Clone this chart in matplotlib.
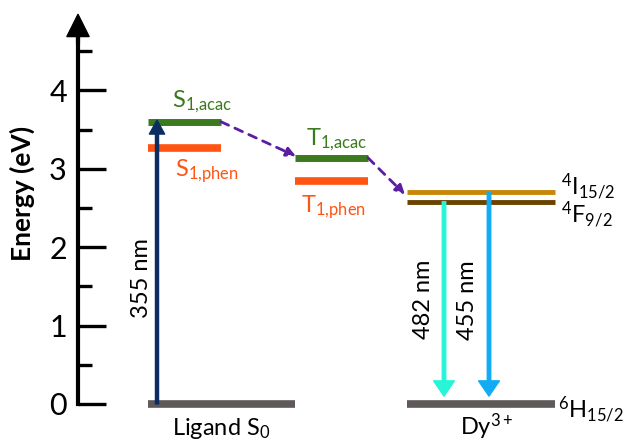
import matplotlib
matplotlib.use("Agg")
import matplotlib.pyplot as plt

plt.rcParams['font.family'] = ['Lato', 'DejaVu Sans']
plt.rcParams['mathtext.fontset'] = 'custom'
plt.rcParams['mathtext.rm'] = 'Lato'
plt.rcParams['mathtext.it'] = 'Lato'

# energy levels (eV)
s0 = 0.0
s1_acac, s1_phen = 3.60, 3.27
t1_acac, t1_phen = 3.14, 2.84
dy_i15, dy_f9, dy_h15 = 2.70, 2.58, 0.0
wavelengths = ['355 nm', '482 nm', '455 nm']
yticks_major = [0, 1, 2, 3, 4]
yticks_minor = [0.5, 1.5, 2.5, 3.5, 4.5]

green = '#3b7a1e'
orange = '#ff5412'
gray = '#5f5a5a'
purple = '#5b1ea3'

fig = plt.figure(figsize=(6.3, 4.42), dpi=100)
ax = fig.add_axes([0, 0, 1, 1])
ax.set_xlim(0, 630)
ax.set_ylim(-0.485, 5.153)

for s in ['top', 'right', 'bottom']:
    ax.spines[s].set_visible(False)
ax.spines['left'].set_position(('data', 78))
ax.spines['left'].set_bounds(0, 4.9)
ax.spines['left'].set_linewidth(3)
ax.set_xticks([])
ax.set_yticks(yticks_major)
ax.set_yticks(yticks_minor, minor=True)
ax.tick_params(axis='y', which='major', direction='in', length=20, width=2.4,
               labelsize=22, pad=8)
ax.tick_params(axis='y', which='minor', direction='in', length=10, width=2.4)
ax.annotate('', xy=(78, 4.97), xytext=(78, 4.6),
            arrowprops=dict(facecolor='black', edgecolor='black', width=2,
                            headwidth=16, headlength=16, shrink=0))
ax.text(22, 2.69, 'Energy (eV)', rotation=90, ha='center', va='center',
        fontsize=19, fontweight='bold')

# levels
ax.hlines(s0, 148, 295, color=gray, lw=5.5)
ax.hlines(s1_acac, 148, 221, color=green, lw=5)
ax.hlines(s1_phen, 148, 221, color=orange, lw=5.5)
ax.hlines(t1_acac, 295, 368, color=green, lw=5)
ax.hlines(t1_phen, 295, 368, color=orange, lw=5.5)
ax.hlines(dy_i15, 407, 555, color='#c98708', lw=3.5)
ax.hlines(dy_f9, 407, 555, color='#6b4200', lw=3.5)
ax.hlines(dy_h15, 407, 555, color=gray, lw=5.5)

# transitions
arrow_kw = dict(width=2.2, headwidth=11, headlength=10, shrink=0)
ax.annotate('', xy=(157, s1_acac + 0.02), xytext=(157, s0),
            arrowprops=dict(color='#0d2d62', **arrow_kw))
ax.annotate('', xy=(444, dy_h15 + 0.1), xytext=(444, dy_f9),
            arrowprops=dict(color='#28f5d8', width=2.5, headwidth=15,
                            headlength=11, shrink=0))
ax.annotate('', xy=(489, dy_h15 + 0.1), xytext=(489, dy_i15),
            arrowprops=dict(color='#12acf5', width=2.5, headwidth=15,
                            headlength=11, shrink=0))

dash = dict(arrowstyle='-|>', color=purple, lw=2, linestyle=(0, (3, 2.5)),
            mutation_scale=14, shrinkA=0, shrinkB=0)
ax.annotate('', xy=(296, t1_acac + 0.02), xytext=(221, s1_acac),
            arrowprops=dash)
ax.annotate('', xy=(405, dy_i15 - 0.03), xytext=(368, t1_acac),
            arrowprops=dash)

ax.text(141, 1.6, wavelengths[0], rotation=90, ha='center', va='center', fontsize=17)
ax.text(423, 1.33, wavelengths[1], rotation=90, ha='center', va='center', fontsize=17)
ax.text(468, 1.33, wavelengths[2], rotation=90, ha='center', va='center', fontsize=17)

ax.text(172, 3.79, r'S$_{\mathregular{1{,}acac}}$', color=green, fontsize=17)
ax.text(175, 2.90, r'S$_{\mathregular{1{,}phen}}$', color=orange, fontsize=17)
ax.text(306, 3.30, r'T$_{\mathregular{1{,}acac}}$', color=green, fontsize=17)
ax.text(301, 2.45, r'T$_{\mathregular{1{,}phen}}$', color=orange, fontsize=17)
ax.text(561, 2.67, r'$^{\mathregular{4}}$I$_{\mathregular{15/2}}$', fontsize=17)
ax.text(561, 2.31, r'$^{\mathregular{4}}$F$_{\mathregular{9/2}}$', fontsize=17)
ax.text(558, -0.17, r'$^{\mathregular{6}}$H$_{\mathregular{15/2}}$', fontsize=17)
ax.text(221, -0.40, r'Ligand S$_{\mathregular{0}}$', ha='center', fontsize=17)
ax.text(487, -0.40, r'Dy$^{\mathregular{3+}}$', ha='center', fontsize=17)

fig.savefig('out.png', dpi=100)
